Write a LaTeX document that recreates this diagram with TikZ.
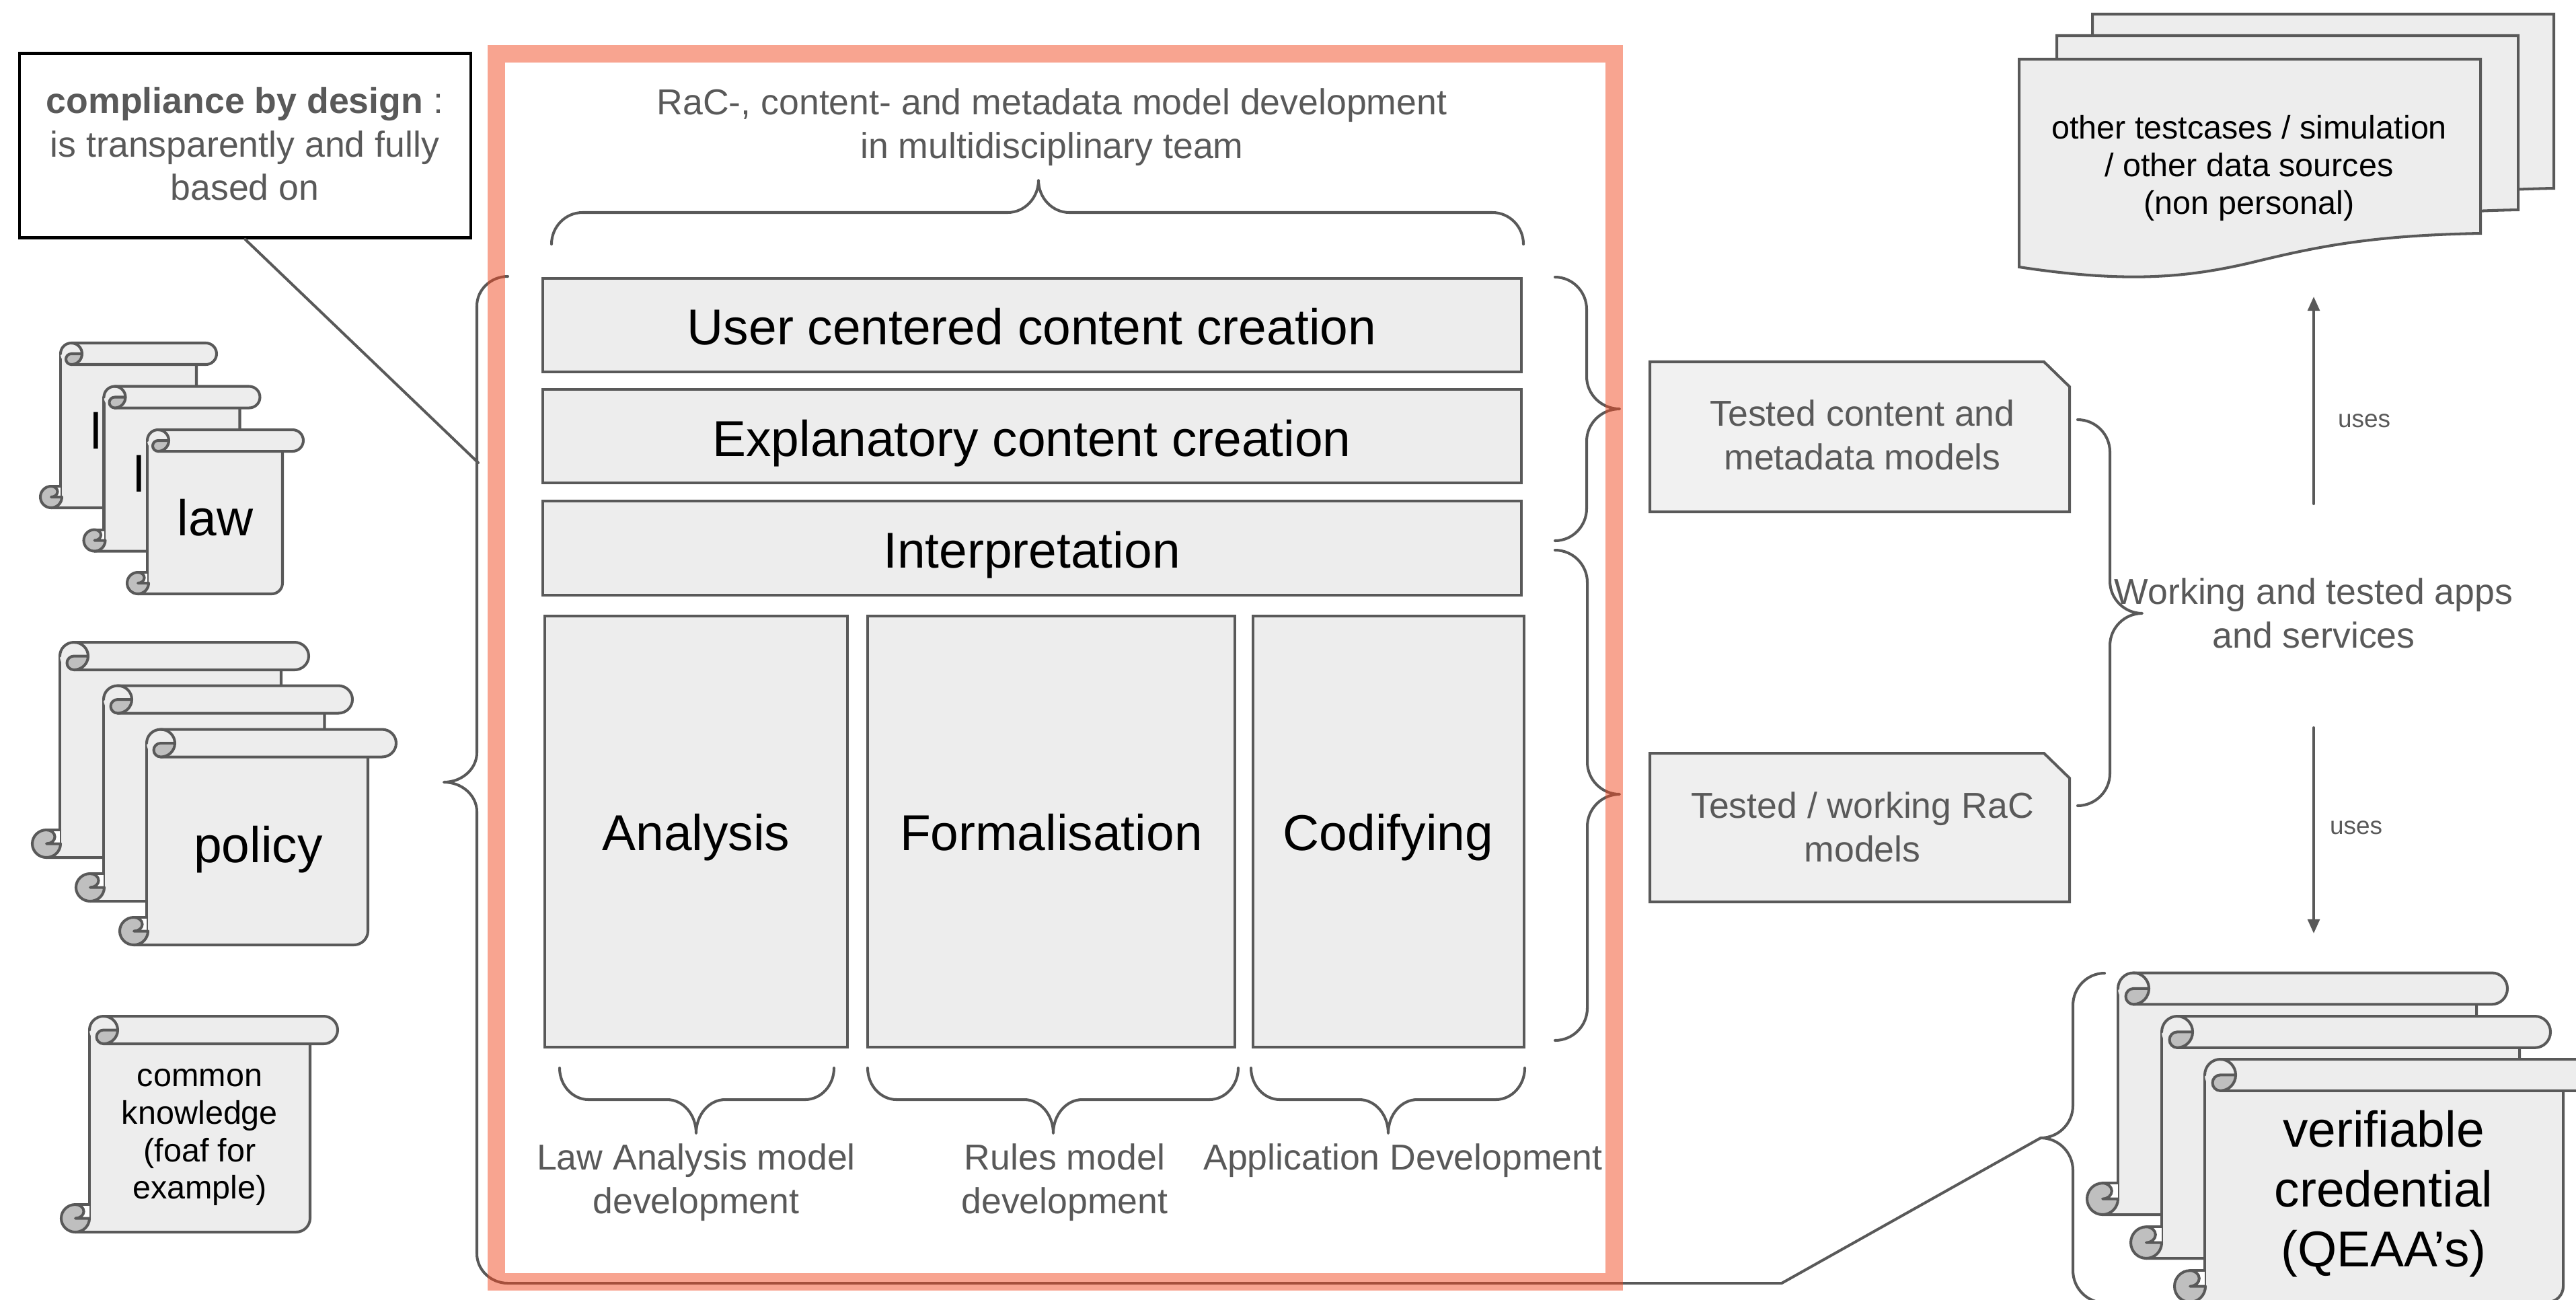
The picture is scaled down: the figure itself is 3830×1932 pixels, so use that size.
\documentclass[tikz,border=0pt]{standalone}
\usepackage{fontspec}
\setmainfont{Liberation Sans}
\usetikzlibrary{arrows.meta}
\definecolor{ln}{HTML}{595959}
\definecolor{fillg}{HTML}{EDEDED}
\definecolor{curl}{HTML}{BFBFBF}
\definecolor{salmon}{HTML}{F14921}
\tikzset{
  x=0.01cm,y=0.01cm,
  lnst/.style={draw=ln,line width=1.15pt,line join=round,line cap=round},
  boxst/.style={lnst,fill=fillg,line cap=butt,line join=miter},
  big/.style={font=\fontsize{21.3}{25.3}\selectfont,text=black,align=center,inner sep=0pt},
  mid/.style={font=\fontsize{13.8}{15.9}\selectfont,text=black,align=center,inner sep=0pt},
  gray/.style={font=\fontsize{15.25}{18.4}\selectfont,text=ln,align=center,inner sep=0pt},
  small/.style={font=\fontsize{10.5}{12.5}\selectfont,text=ln,align=center,inner sep=0pt},
  arrowst/.style={lnst,-{Triangle[length=6pt,width=5pt]}},
}
% x0 y0 x1 y1 xl xr rx ry
\newcommand{\scrollshape}[8]{%
  \fill[fillg] ({#5},{-(#2+#8)}) -- ({#5},{-(#4-#8)}) -- ({#1+#7},{-#4}) -- ({#6-#7},{-#4})
     arc[start angle=-90,end angle=0,x radius=#7*0.01cm,y radius=#8*0.01cm] -- ({#6},{-(#2+#8)}) -- cycle;
  \draw[lnst] ({#1+#7},{-#4}) -- ({#6-#7},{-#4})
     arc[start angle=-90,end angle=0,x radius=#7*0.01cm,y radius=#8*0.01cm] -- ({#6},{-(#2+#8)});
  \draw[lnst] ({#5},{-(#2+#8)}) -- ({#5},{-(#4-#8)});
  \fill[white] ({#1+#7},{-(#4-2*#8)}) rectangle ({#5},{-(#4-#8)});
  \draw[lnst] ({#1+#7},{-(#4-2*#8)}) -- ({#5},{-(#4-2*#8)});
  \draw[lnst,fill=curl] ({#1+#7},{-(#4-2*#8)})
     arc[start angle=90,end angle=270,x radius=#7*0.01cm,y radius=#8*0.01cm]
     arc[start angle=-90,end angle=0,x radius=#7*0.01cm,y radius=#8*0.01cm]
     -- ({#1+#7},{-(#4-#8)})
     arc[start angle=-90,end angle=90,x radius=#7*0.6*0.01cm,y radius=#8*0.5*0.01cm] -- cycle;
  \fill[fillg] ({#5},{-(#2+#8)})
     arc[start angle=180,end angle=90,x radius=#7*0.01cm,y radius=#8*0.01cm]
     -- ({#3-#7},{-#2})
     arc[start angle=90,end angle=-90,x radius=#7*0.01cm,y radius=#8*0.01cm]
     -- ({#5+#7},{-(#2+2*#8)})
     arc[start angle=270,end angle=180,x radius=#7*0.01cm,y radius=#8*0.01cm] -- cycle;
  \draw[lnst] ({#5},{-(#2+#8)})
     arc[start angle=180,end angle=90,x radius=#7*0.01cm,y radius=#8*0.01cm]
     -- ({#3-#7},{-#2})
     arc[start angle=90,end angle=-90,x radius=#7*0.01cm,y radius=#8*0.01cm]
     -- ({#5+#7},{-(#2+2*#8)});
  \draw[lnst,fill=curl] ({#5+2*#7},{-(#2+#8)}) -- ({#5+#7},{-(#2+#8)})
     arc[start angle=90,end angle=270,x radius=#7*0.5*0.01cm,y radius=#8*0.5*0.01cm]
     arc[start angle=-90,end angle=0,x radius=#7*0.01cm,y radius=#8*0.01cm] -- cycle;
  \draw[lnst] ({#5+#7},{-#2}) arc[start angle=90,end angle=0,x radius=#7*0.01cm,y radius=#8*0.01cm];
}
% vertical brace: y0 y1 ytip xs xb xt r
\newcommand{\vbr}[7]{%
  \draw[lnst] ({#4},{-#1}) .. controls ({#4+(#5-#4)*.55},{-#1}) and ({#5},{-(#1+#7*.45)}) .. ({#5},{-(#1+#7)})
    -- ({#5},{-(#3-#7)}) .. controls ({#5},{-(#3-#7*.45)}) and ({#5+(#6-#5)*.45},{-#3}) .. ({#6},{-#3})
    .. controls ({#5+(#6-#5)*.45},{-#3}) and ({#5},{-(#3+#7*.45)}) .. ({#5},{-(#3+#7)})
    -- ({#5},{-(#2-#7)}) .. controls ({#5},{-(#2-#7*.45)}) and ({#4+(#5-#4)*.55},{-#2}) .. ({#4},{-#2});
}
% horizontal brace: x0 x1 xtip ys yb yt r
\newcommand{\hbr}[7]{%
  \draw[lnst] ({#1},{-#4}) .. controls ({#1},{-(#4+(#5-#4)*.55)}) and ({#1+#7*.45},{-#5}) .. ({#1+#7},{-#5})
    -- ({#3-#7},{-#5}) .. controls ({#3-#7*.45},{-#5}) and ({#3},{-(#5+(#6-#5)*.45)}) .. ({#3},{-#6})
    .. controls ({#3},{-(#5+(#6-#5)*.45)}) and ({#3+#7*.45},{-#5}) .. ({#3+#7},{-#5})
    -- ({#2-#7},{-#5}) .. controls ({#2-#7*.45},{-#5}) and ({#2},{-(#4+(#5-#4)*.55)}) .. ({#2},{-#4});
}
\begin{document}
\begin{tikzpicture}
\useasboundingbox (0,0) rectangle (3830,-1932);
\clip (0,0) rectangle (3830,-1932);

% compliance
\node[draw=black,line width=1.3pt,fill=white,inner sep=0pt,minimum width=6.71cm,minimum height=2.74cm] (comp) at (364.5,-216.5) {};
\node[gray] (comptxt) at (364,-214) {\textbf{compliance by design} :\\is transparently and fully\\based on};
\coordinate (bl) at (711,-688);
\draw[lnst] (comp.south) -- (bl);

% law stack
\scrollshape{60}{510}{322}{755}{90}{292}{16}{16}
\node[big] (l1) at (143,-640) {l};
\scrollshape{124.5}{574.5}{386.5}{819.5}{154.5}{356.5}{16}{16}
\node[big] (l2) at (207,-704) {l};
\scrollshape{189}{639}{451}{883}{219}{420}{16}{16}
\node[big] (law) at (320,-770) {law};

% policy stack
\scrollshape{48}{955}{459}{1275}{89}{418}{21}{20.5}
\scrollshape{113}{1019.5}{524}{1340}{154}{482.5}{21}{20.5}
\scrollshape{178}{1084.5}{589}{1405}{218}{547}{21}{20.5}
\node[big] (policy) at (384,-1263) {policy};

% common
\scrollshape{91}{1511}{502}{1832}{133}{461}{21}{20.5}
\node[mid] (common) at (297,-1691) {common\\knowledge\\(foaf for\\example)};

% bars
\node[boxst,big,minimum width=14.55cm,minimum height=1.39cm] (b1) at (1534.5,-483.5) {};
\node[big] (b1t) at (1534,-486) {User centered content creation};
\node[boxst,big,minimum width=14.55cm,minimum height=1.39cm] (b2) at (1534.5,-648.5) {};
\node[big] (b2t) at (1534,-659) {Explanatory content creation};
\node[boxst,big,minimum width=14.55cm,minimum height=1.40cm] (b3) at (1534.5,-815) {};
\node[big] (b3t) at (1534,-825) {Interpretation};
\node[boxst,big,minimum width=4.50cm,minimum height=6.41cm] (c1) at (1035,-1236.5) {};
\node[big] (c1t) at (1035,-1245) {Analysis};
\node[boxst,big,minimum width=5.46cm,minimum height=6.41cm] (c2) at (1563,-1236.5) {};
\node[big] (c2t) at (1563,-1238) {Formalisation};
\node[boxst,big,minimum width=4.03cm,minimum height=6.41cm] (c3) at (2064.5,-1236.5) {};
\node[big] (c3t) at (2064,-1245) {Codifying};

% top label and brace
\node[gray] (toplab) at (1564,-189) {RaC-, content- and metadata model development\\in multidisciplinary team};
\hbr{820}{2265}{1544}{363}{316}{268}{46}
% bottom braces
\hbr{832}{1240}{1035}{1588}{1635}{1685}{43}
\hbr{1290}{1841}{1566}{1588}{1635}{1685}{43}
\hbr{1860}{2267}{2064}{1588}{1635}{1685}{43}
\node[gray] (ll) at (1035,-1758) {Law Analysis model\\development};
\node[gray] (lr) at (1583,-1758) {Rules model\\development};
\node[gray] (la) at (2086,-1726) {Application Development};

% right inner braces
\vbr{412}{804}{608}{2312}{2359}{2408}{48}
\vbr{818}{1547}{1181}{2312}{2360}{2408}{48}

% left big brace & connection
\vbr{411}{1908}{1163}{755}{709}{660}{44}
\coordinate (ba) at (755,-1908);
\coordinate (bb) at (2649,-1908);
\coordinate (bc) at (3034,-1692);
\draw[lnst] (ba) -- (bb) -- (bc);

% salmon frame
\draw[draw=salmon,opacity=.5,line width=0.26cm,line join=miter] (737.5,-80) rectangle (2400,-1906);

% notes
\draw[boxst,fill=fillg!80!white] (2453,-538) -- (3039,-538) -- (3077,-575) -- (3077,-761) -- (2453,-761) -- cycle;
\node[gray] (n1) at (2769,-647) {Tested content and\\metadata models};
\draw[boxst,fill=fillg!90!white] (2453,-1120) -- (3039,-1120) -- (3077,-1157) -- (3077,-1341) -- (2453,-1341) -- cycle;
\node[gray] (n2) at (2769,-1230) {Tested / working RaC\\models};

% docs
\newcommand{\docshape}[2]{%
\begin{scope}[shift={(#1,#2)}]
\draw[boxst] (3002,-88) -- (3688,-88) -- (3688,-347) .. controls (3520,-350) and (3440,-368) .. (3345,-391) .. controls (3250,-413) and (3160,-421) .. (3002,-397) -- cycle;
\end{scope}}
\docshape{109}{67}
\docshape{56}{35}
\docshape{0}{0}
\node[mid] (doc) at (3344,-250) {other testcases / simulation\\/ other data sources\\(non personal)};

% apps
\vbr{624}{1198}{912}{3089}{3137}{3185}{48}
\node[gray] (apps) at (3440,-912) {Working and tested apps\\and services};
\coordinate (u1) at (3440,-749);
\coordinate (u2) at (3440,-441);
\coordinate (d1) at (3440,-1082);
\coordinate (d2) at (3440,-1388);
\draw[arrowst] (u1) -- (u2);
\draw[arrowst] (d1) -- (d2);
\node[small] (us1) at (3515,-626) {uses};
\node[small] (us2) at (3503,-1231) {uses};

% verifiable brace and stack
\vbr{1447}{1937}{1692}{3129}{3082}{3034}{48}
\scrollshape{3103}{1446.5}{3728}{1806}{3149}{3682}{23}{23.4}
\scrollshape{3168}{1511}{3792}{1871}{3214}{3746}{23}{23.4}
\scrollshape{3233}{1575}{3857}{1936}{3278}{3811}{23}{23.4}
\node[big] (vc) at (3544,-1775) {verifiable\\credential\\(QEAA’s)};
\end{tikzpicture}
\end{document}
